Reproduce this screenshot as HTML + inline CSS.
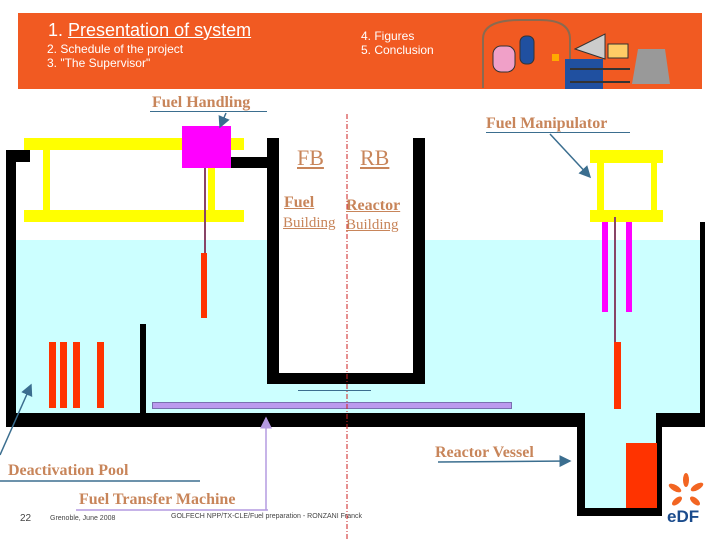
<!DOCTYPE html>
<html><head><meta charset="utf-8"><style>
*{margin:0;padding:0}
body{width:720px;height:540px;background:#fff;position:relative;overflow:hidden;font-family:"Liberation Sans",sans-serif}
div{position:absolute}
.k{background:#000}.y{background:#ffff00}.r{background:#ff3300}.m{background:#ff00ff}
.lb{font-family:"Liberation Serif",serif;font-weight:bold;color:#c8855a;font-size:16px;white-space:nowrap;line-height:1}
.u{border-bottom:1.5px solid #3b6e8f}
.w{color:#fff;white-space:nowrap;line-height:1}
</style></head><body>
<!-- banner -->
<div style="left:18px;top:13px;width:684px;height:76px;background:#f15a22"></div>
<div class="w" style="left:48px;top:21px;font-size:18px">1. <span style="text-decoration:underline">Presentation of system</span></div>
<div class="w" style="left:47px;top:43px;font-size:12px">2. Schedule of the project</div>
<div class="w" style="left:47px;top:57px;font-size:12px">3. "The Supervisor"</div>
<div class="w" style="left:361px;top:30px;font-size:12px">4. Figures</div>
<div class="w" style="left:361px;top:44px;font-size:12px">5. Conclusion</div>
<svg style="position:absolute;left:480px;top:14px" width="222" height="75">
<path d="M3 74 V25 Q3 6 40 6 H60 Q90 6 90 25 V74" fill="none" stroke="#8a6a50" stroke-width="2"/>
<rect x="13" y="32" width="22" height="26" rx="8" fill="#f0a0c8" stroke="#333"/>
<rect x="40" y="22" width="14" height="28" rx="6" fill="#2050a0" stroke="#333"/>
<rect x="85" y="45" width="38" height="30" fill="#2050a0"/>
<polygon points="95,35 125,20 125,45" fill="#ccc" stroke="#333"/>
<rect x="128" y="30" width="20" height="14" fill="#ffcc66" stroke="#333"/>
<polygon points="152,70 158,35 185,35 190,70" fill="#999"/>
<path d="M90 55 H150 M90 68 H150" stroke="#333" stroke-width="2"/>
<rect x="72" y="40" width="7" height="7" fill="#ffaa00"/>
</svg>
<!-- pool -->
<div style="left:16px;top:240px;width:684px;height:173px;background:#ccffff"></div>
<div style="left:585px;top:413px;width:71px;height:95px;background:#ccffff"></div>
<!-- walls -->
<div class="k" style="left:6px;top:150px;width:10px;height:277px"></div>
<div class="k" style="left:6px;top:150px;width:24px;height:12px"></div>
<div class="k" style="left:6px;top:413px;width:579px;height:14px"></div>
<div class="k" style="left:577px;top:413px;width:8px;height:102px"></div>
<div class="k" style="left:577px;top:508px;width:84px;height:8px"></div>
<div class="k" style="left:656px;top:413px;width:6px;height:103px"></div>
<div class="k" style="left:656px;top:413px;width:49px;height:14px"></div>
<div class="k" style="left:700px;top:222px;width:5px;height:205px"></div>
<div class="k" style="left:267px;top:138px;width:12px;height:246px"></div>
<div class="k" style="left:413px;top:138px;width:12px;height:246px"></div>
<div class="k" style="left:267px;top:373px;width:158px;height:11px"></div>
<div style="left:279px;top:240px;width:134px;height:133px;background:#fff"></div>
<div class="k" style="left:231px;top:157px;width:36px;height:11px"></div>
<div class="k" style="left:140px;top:324px;width:6px;height:89px"></div>
<!-- rods -->
<div class="r" style="left:49px;top:342px;width:7px;height:66px"></div>
<div class="r" style="left:60px;top:342px;width:7px;height:66px"></div>
<div class="r" style="left:73px;top:342px;width:7px;height:66px"></div>
<div class="r" style="left:97px;top:342px;width:7px;height:66px"></div>
<div class="r" style="left:626px;top:443px;width:31px;height:65px"></div>
<!-- transfer -->
<div style="left:152px;top:402px;width:358px;height:5px;background:#bb99ee;border:1px solid #7a70b0"></div>
<div style="left:298px;top:390px;width:73px;height:1px;background:#3b6e8f"></div>
<!-- crane left -->
<div class="y" style="left:24px;top:138px;width:220px;height:12px"></div>
<div class="y" style="left:24px;top:210px;width:220px;height:12px"></div>
<div class="y" style="left:43px;top:150px;width:7px;height:60px"></div>
<div class="y" style="left:208px;top:160px;width:7px;height:50px"></div>
<div class="m" style="left:182px;top:126px;width:49px;height:42px"></div>
<div style="left:204px;top:168px;width:2px;height:86px;background:#884466"></div>
<div class="r" style="left:201px;top:253px;width:6px;height:65px"></div>
<!-- manipulator right -->
<div class="y" style="left:590px;top:150px;width:73px;height:13px"></div>
<div class="y" style="left:590px;top:210px;width:73px;height:12px"></div>
<div class="y" style="left:597px;top:163px;width:7px;height:47px"></div>
<div class="y" style="left:651px;top:163px;width:6px;height:47px"></div>
<div class="m" style="left:602px;top:222px;width:6px;height:90px"></div>
<div class="m" style="left:626px;top:222px;width:6px;height:90px"></div>
<div style="left:614px;top:217px;width:2px;height:125px;background:#884466"></div>
<div class="r" style="left:614px;top:342px;width:7px;height:67px"></div>
<!-- dashed line & arrows -->
<svg style="position:absolute;left:0;top:0" width="720" height="540">
<defs><marker id="a" markerWidth="8" markerHeight="8" refX="7" refY="4" orient="auto"><path d="M0,0 L8,4 L0,8z" fill="#3b6e8f"/></marker>
<marker id="b" markerWidth="8" markerHeight="8" refX="7" refY="4" orient="auto"><path d="M0,0 L8,4 L0,8z" fill="#b49ae0"/></marker></defs>
<line x1="347" y1="114" x2="347" y2="540" stroke="#cc2222" stroke-width="1" stroke-dasharray="5,2,1,2"/>
<line x1="226" y1="113" x2="220" y2="127" stroke="#3b6e8f" stroke-width="1.5" marker-end="url(#a)"/>
<line x1="550" y1="134" x2="590" y2="177" stroke="#3b6e8f" stroke-width="1.5" marker-end="url(#a)"/>
<line x1="438" y1="462" x2="570" y2="461" stroke="#3b6e8f" stroke-width="1.5" marker-end="url(#a)"/>
<line x1="0" y1="455" x2="31" y2="385" stroke="#3b6e8f" stroke-width="1.5" marker-end="url(#a)"/>
<line x1="266" y1="510" x2="266" y2="418" stroke="#b49ae0" stroke-width="1.5" marker-end="url(#b)"/>
<line x1="0" y1="481" x2="200" y2="481" stroke="#3b6e8f" stroke-width="1.5"/>
<line x1="76" y1="510" x2="268" y2="510" stroke="#b49ae0" stroke-width="1.5"/>
</svg>
<!-- labels -->
<div class="lb u" style="left:150px;top:95px;width:115px;padding-left:2px">Fuel Handling</div>
<div class="lb u" style="left:486px;top:116px;width:144px">Fuel Manipulator</div>
<div class="lb" style="left:297px;top:147px;font-size:22px;font-weight:normal;text-decoration:underline">FB</div>
<div class="lb" style="left:360px;top:147px;font-size:22px;font-weight:normal;text-decoration:underline">RB</div>
<div class="lb" style="left:284px;top:195px;text-decoration:underline">Fuel</div>
<div class="lb" style="left:283px;top:216px;font-size:15px;font-weight:normal;text-decoration:underline">Building</div>
<div class="lb" style="left:346px;top:198px;text-decoration:underline">Reactor</div>
<div class="lb" style="left:346px;top:218px;font-size:15px;font-weight:normal;text-decoration:underline">Building</div>
<div class="lb" style="left:435px;top:445px">Reactor Vessel</div>
<div class="lb" style="left:8px;top:463px">Deactivation Pool</div>
<div class="lb" style="left:79px;top:492px">Fuel Transfer Machine</div>
<!-- footer -->
<div style="left:20px;top:513px;font-size:10px;color:#444">22</div>
<div style="left:50px;top:515px;font-size:7px;color:#444;white-space:nowrap">Grenoble, June 2008</div>
<div style="left:171px;top:513px;font-size:7px;color:#444;white-space:nowrap">GOLFECH NPP/TX-CLE/Fuel preparation - RONZANI Franck</div>
<!-- EDF logo -->
<svg style="position:absolute;left:666px;top:472px" width="42" height="52">
<g fill="#f26522"><ellipse cx="20" cy="8" rx="3" ry="7"/><ellipse cx="31" cy="15" rx="7" ry="3" transform="rotate(-30 31 15)"/><ellipse cx="9" cy="16" rx="7" ry="3" transform="rotate(30 9 16)"/><ellipse cx="11" cy="29" rx="6" ry="3" transform="rotate(-40 11 29)"/><ellipse cx="29" cy="29" rx="6" ry="3" transform="rotate(40 29 29)"/></g>
<text x="1" y="50" font-family="Liberation Sans" font-weight="bold" font-size="17" fill="#1a4b8c">eDF</text>
</svg>
</body></html>
